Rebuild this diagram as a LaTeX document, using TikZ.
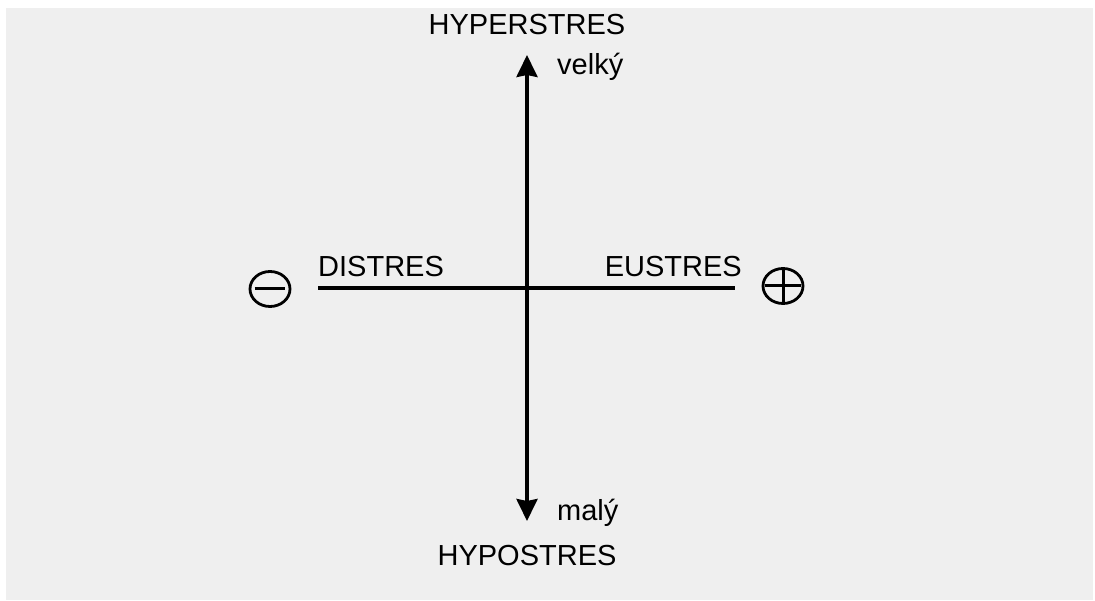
\documentclass[tikz,border=0pt]{standalone}
\usepackage{fontspec}
\setmainfont{Liberation Sans}
\usetikzlibrary{arrows.meta,shapes.geometric}
\definecolor{bg}{RGB}{239,239,239}
\begin{document}
\begin{tikzpicture}[x=1pt,y=-1pt,
  lbl/.style={font=\fontsize{29}{34}\selectfont, inner sep=0pt},
  axisarrow/.style={line width=3.4pt, {Stealth[length=22pt,width=21pt,inset=2pt]}-{Stealth[length=22pt,width=21pt,inset=2pt]}},
  axisline/.style={line width=3.2pt},
  sign/.style={draw, ellipse, line width=2.8pt, minimum width=40pt, minimum height=35pt, inner sep=0pt},
  bar/.style={line width=3pt}]
\useasboundingbox (0,0) rectangle (1095,601);
\fill[bg] (6,8) rectangle (1093,600);
% labels
\node[lbl, anchor=base] (hyper) at (527,35) {HYPERSTRES};
\node[lbl, anchor=base west] (velky) at (557,75) {velký};
\node[lbl, anchor=base west] (maly) at (557,520) {malý};
\node[lbl, anchor=base] (hypo) at (527,565) {HYPOSTRES};
\node[lbl, anchor=base west] (dis) at (318,277) {DISTRES};
\node[lbl, anchor=base east] (eu) at (742,277) {EUSTRES};
% axes
\coordinate (top) at (527,55);
\coordinate (bot) at (527,521);
\coordinate (left) at (318,288);
\coordinate (right) at (735,288);
\draw[axisarrow] (bot) -- (top);
\draw[axisline] (left) -- (right);
% signs
\node[sign] (minus) at (270,289) {};
\draw[bar] ([xshift=6pt]minus.west) -- ([xshift=-6pt]minus.east);
\node[sign] (plus) at (783,286) {};
\draw[bar] ([xshift=3pt]plus.west) -- ([xshift=-3pt]plus.east);
\draw[bar] ([yshift=-2pt]plus.north) -- ([yshift=2pt]plus.south);
\end{tikzpicture}
\end{document}
